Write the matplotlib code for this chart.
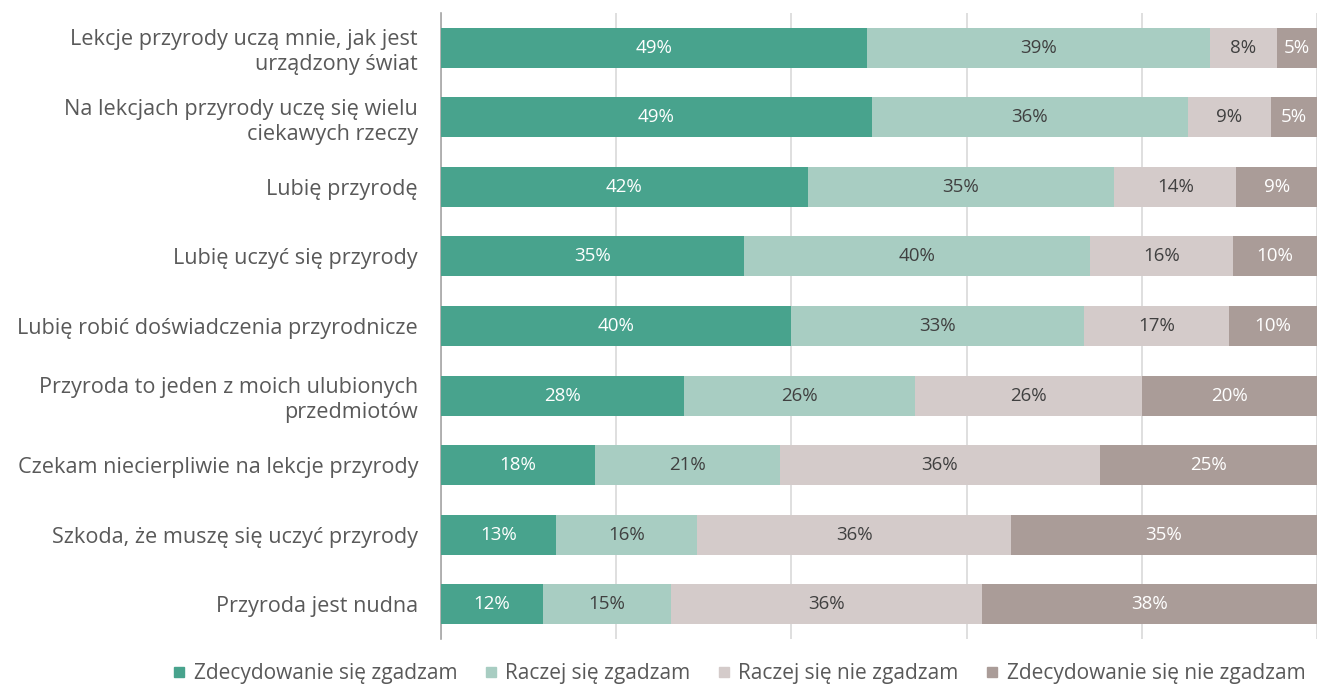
import matplotlib
matplotlib.use("Agg")
import matplotlib.pyplot as plt
from matplotlib.lines import Line2D
import numpy as np

plt.rcParams['font.family'] = ['Open Sans', 'DejaVu Sans']

categories = [
    "Lekcje przyrody uczą mnie, jak jest\nurządzony świat",
    "Na lekcjach przyrody uczę się wielu\nciekawych rzeczy",
    "Lubię przyrodę",
    "Lubię uczyć się przyrody",
    "Lubię robić doświadczenia przyrodnicze",
    "Przyroda to jeden z moich ulubionych\nprzedmiotów",
    "Czekam niecierpliwie na lekcje przyrody",
    "Szkoda, że muszę się uczyć przyrody",
    "Przyroda jest nudna",
]

series_names = [
    "Zdecydowanie się zgadzam",
    "Raczej się zgadzam",
    "Raczej się nie zgadzam",
    "Zdecydowanie się nie zgadzam",
]

strongly_agree    = [48.6, 49.2, 41.8, 34.6, 40.0, 27.7, 17.6, 13.1, 11.6]
rather_agree      = [39.2, 36.2, 35.0, 39.6, 33.4, 26.4, 21.1, 16.1, 14.6]
rather_disagree   = [7.6,  9.4,  13.9, 16.3, 16.6, 25.9, 36.4, 35.8, 35.6]
strongly_disagree = [4.6,  5.3,  9.2,  9.6,  10.0, 20.0, 24.8, 34.9, 38.2]

colors = ["#48A38D", "#A8CDC2", "#D4CBCA", "#AA9C98"]
text_colors = ["white", "#404040", "#404040", "white"]

series = [strongly_agree, rather_agree, rather_disagree, strongly_disagree]

fig = plt.figure(figsize=(13.19, 6.86), dpi=100)
ax = fig.add_axes([441 / 1319, 1 - 639 / 686, (1317 - 441) / 1319, (639 - 13) / 686])

data = np.array(series, dtype=float)
totals = data.sum(axis=0)
shares = data / totals

y = np.arange(len(categories))
left = np.zeros(len(categories))
for vals, share, col, tcol, name in zip(data, shares, colors, text_colors, series_names):
    ax.barh(y, share, left=left, height=0.575, color=col, label=name, zorder=3)
    for yi, l, s, v in zip(y, left, share, vals):
        ax.text(l + s / 2, yi, f"{v:.0f}%", ha="center", va="center",
                color=tcol, fontsize=13.5, zorder=4)
    left = left + share

ax.set_xlim(0, 1)
ax.set_ylim(len(categories) - 0.5, -0.5)
ax.set_yticks(y)
ax.set_yticklabels(categories, fontsize=15.6, color="#595959", linespacing=1.25)
ax.set_xticks(np.linspace(0, 1, 6))
ax.tick_params(axis="x", bottom=False, labelbottom=False)
ax.tick_params(axis="y", length=0, pad=16.5)
ax.grid(axis="x", color="#D9D9D9", linewidth=1.2, zorder=0)
for side in ["top", "right", "bottom"]:
    ax.spines[side].set_visible(False)
ax.spines["left"].set_color("#A6A6A6")
ax.spines["left"].set_linewidth(1.2)

handles = [Line2D([], [], marker="s", linestyle="none", markersize=6.5,
                  markerfacecolor=c, markeredgecolor=c) for c in colors]
fig.legend(handles, series_names, loc="center", bbox_to_anchor=(737 / 1319, 1 - 674 / 686),
           ncol=4, frameon=False, fontsize=15.0, handletextpad=0.2, columnspacing=1.1,
           labelcolor="#595959", handlelength=1.0, borderpad=0.1)

fig.savefig("out.png", dpi=100)
